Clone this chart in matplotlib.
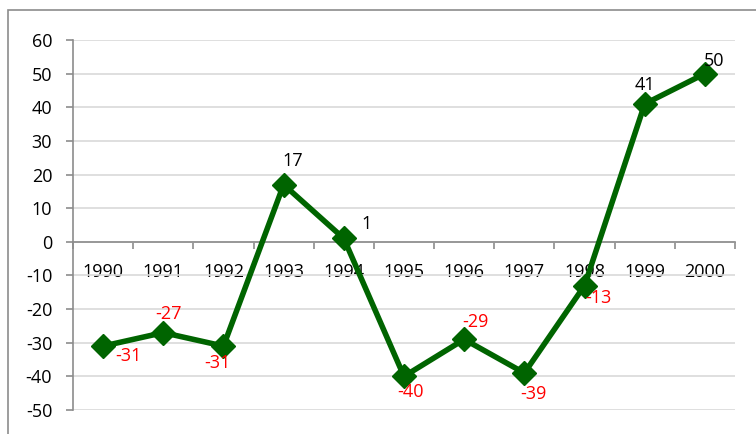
import matplotlib.pyplot as plt
from matplotlib.patches import Rectangle

years = ["1990", "1991", "1992", "1993", "1994", "1995", "1996", "1997", "1998", "1999", "2000"]
values = [-31, -27, -31, 17, 1, -40, -29, -39, -13, 41, 50]
label_offsets = [(25, -10), (5, 19), (-6, -17), (9, 24), (23, 14), (6, -16),
                 (11, 17), (9, -21), (14, -12), (0, 19), (9, 13)]

plt.rcParams["font.family"] = ["Open Sans", "DejaVu Sans"]
plt.rcParams["axes.unicode_minus"] = False

fig = plt.figure(figsize=(7.56, 4.34), dpi=100)
ax = fig.add_axes([73 / 756, 1 - 410 / 434, (735 - 73) / 756, (410 - 40) / 434])

# chart border (cropped at right and bottom)
fig.patches.append(Rectangle((8 / 756, -0.2), 1.2, 1.2 - 10 / 434,
                             transform=fig.transFigure, fill=False,
                             edgecolor="#8c8c8c", linewidth=1.2))

x = list(range(len(years)))
ax.plot(x, values, color="#006400", linewidth=4, marker="D", markersize=12, zorder=3)

for xi, v, off in zip(x, values, label_offsets):
    ax.annotate(str(v), (xi, v), xytext=off, textcoords="offset pixels",
                ha="center", va="center", fontsize=13,
                color="black" if v >= 0 else "red", zorder=4)

ax.set_xlim(-0.5, len(years) - 0.5)
ax.set_ylim(-50, 60)
ax.set_yticks(range(-50, 61, 10))
ax.yaxis.grid(True, color="#d9d9d9", linewidth=1.2)
ax.set_axisbelow(True)

ax.set_xticks([i - 0.5 for i in range(len(years) + 1)])
ax.set_xticklabels([])
ax.set_xticks(x, minor=True)
ax.set_xticklabels(years, minor=True)
ax.tick_params(axis="x", which="major", direction="out", length=5, color="#8c8c8c", width=1.2)
ax.tick_params(axis="x", which="minor", length=0, pad=15, labelsize=13)
ax.tick_params(axis="y", direction="out", length=5, color="#8c8c8c", width=1.2, labelsize=13, pad=10)

ax.spines["bottom"].set_position(("data", 0))
ax.spines["bottom"].set_color("#8c8c8c")
ax.spines["bottom"].set_linewidth(1.2)
ax.spines["left"].set_color("#8c8c8c")
ax.spines["left"].set_linewidth(1.2)
ax.spines["top"].set_visible(False)
ax.spines["right"].set_visible(False)

fig.savefig("out.png", dpi=100)
